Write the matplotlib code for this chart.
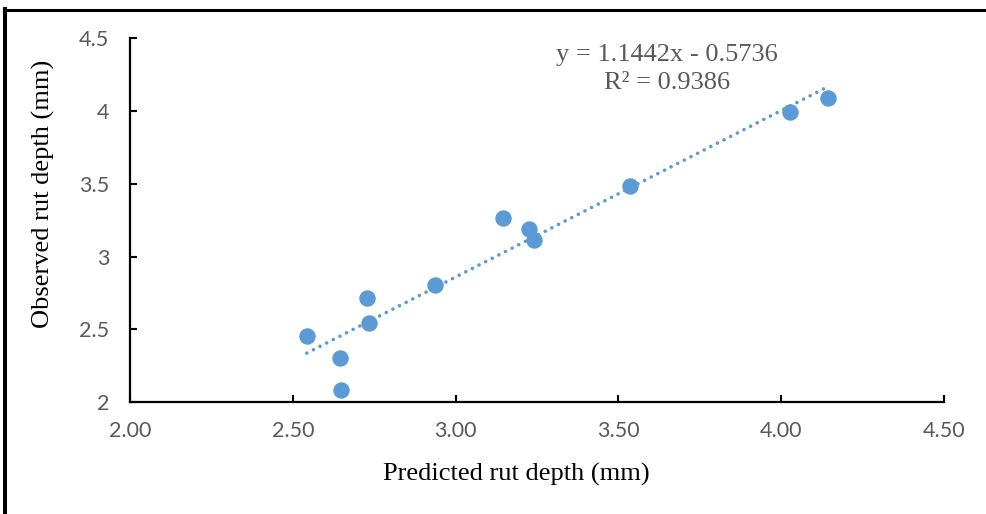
import matplotlib
matplotlib.use("Agg")
import matplotlib.pyplot as plt
from matplotlib.lines import Line2D
import numpy as np

# Predicted vs observed rut depth (mm)
predicted = [2.543, 2.644, 2.649, 2.729, 2.735, 2.937, 3.146, 3.226, 3.242, 3.537, 4.028, 4.145]
observed = [2.452, 2.300, 2.080, 2.713, 2.543, 2.802, 3.265, 3.187, 3.115, 3.485, 3.995, 4.087]

# Linear trendline
slope = 1.1442
intercept = -0.5736
r_squared = 0.9386

x_ticks = [2.0, 2.5, 3.0, 3.5, 4.0, 4.5]
x_tick_labels = ["2.00", "2.50", "3.00", "3.50", "4.00", "4.50"]
y_ticks = [2.0, 2.5, 3.0, 3.5, 4.0, 4.5]
y_tick_labels = ["2", "2.5", "3", "3.5", "4", "4.5"]

blue = "#5B9BD5"
gray = "#595959"

fig = plt.figure(figsize=(9.87, 5.14), dpi=100)
ax = fig.add_axes([0.1317, 0.2179, 0.8247, 0.7076])

ax.scatter(predicted, observed, s=140, color=blue, zorder=3, linewidths=0)

x_fit = np.array([min(predicted), max(predicted)])
ax.plot(x_fit, slope * x_fit + intercept, color=blue, linewidth=2.6,
        linestyle=(0, (0.01, 2.05)), dash_capstyle="round", zorder=2)

ax.set_xlim(2.0, 4.5)
ax.set_ylim(2.0, 4.5)
ax.set_xticks(x_ticks)
ax.set_xticklabels(x_tick_labels)
ax.set_yticks(y_ticks)
ax.set_yticklabels(y_tick_labels)

for side in ("top", "right"):
    ax.spines[side].set_visible(False)
for side in ("left", "bottom"):
    ax.spines[side].set_linewidth(1.6)
    ax.spines[side].set_color("black")

ax.tick_params(axis="both", direction="in", length=5, width=1.5, colors="black",
               labelcolor=gray, labelsize=15.5)
ax.tick_params(axis="x", pad=14)
ax.tick_params(axis="y", pad=15)
for lbl in ax.get_xticklabels() + ax.get_yticklabels():
    lbl.set_family("Lato")

fig.text(0.523, 0.077, "Predicted rut depth (mm)", family="Liberation Serif",
         fontsize=19, ha="center", va="center", color="black")
fig.text(0.044, 0.623, "Observed rut depth (mm)", family="Liberation Serif",
         fontsize=19, ha="center", va="center", rotation=90, color="black")

eq_text = f"y = {slope:.4f}x - {abs(intercept):.4f}\nR² = {r_squared:.4f}"
fig.text(0.676, 0.866, eq_text, family="Liberation Serif", fontsize=19,
         ha="center", va="center", color=gray, linespacing=1.33)

# Outer frame edges
fig.add_artist(Line2D([4 / 987, 1.0], [1 - 10.3 / 514, 1 - 10.3 / 514],
                      transform=fig.transFigure, color="black", linewidth=2.2))
fig.add_artist(Line2D([5.3 / 987, 5.3 / 987], [0.0, 1 - 9 / 514],
                      transform=fig.transFigure, color="black", linewidth=2.9))

fig.savefig("out.png", dpi=100)
